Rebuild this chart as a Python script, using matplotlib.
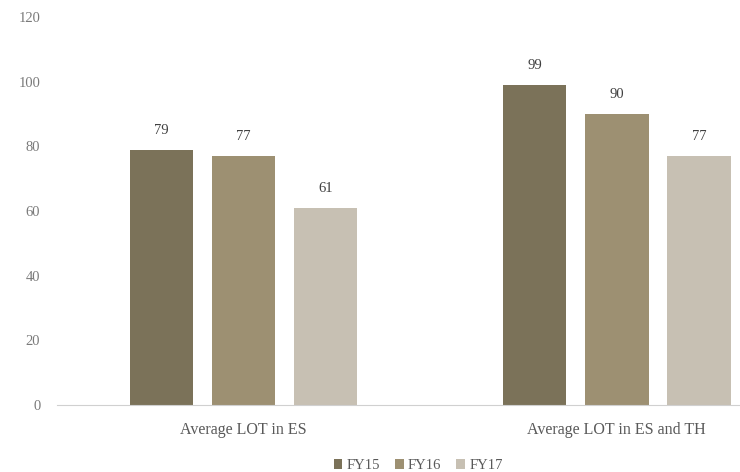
import matplotlib.pyplot as plt
import numpy as np

categories = ['Average LOT in ES', 'Average LOT in ES and TH']
series_names = ['FY15', 'FY16', 'FY17']
fy15 = [79, 99]
fy16 = [77, 90]
fy17 = [61, 77]
colors = ['#7b7259', '#9d9072', '#c7c0b3']

plt.rcParams['font.family'] = ['Liberation Serif', 'DejaVu Serif']

fig = plt.figure(figsize=(7.4, 4.72), dpi=100)
ax = fig.add_axes([0.077, 0.142, 0.923, 0.822])

x = np.arange(len(categories))
width = 0.17
step = 0.22
for i, (vals, name) in enumerate(zip([fy15, fy16, fy17], series_names)):
    pos = x + (i - 1) * step
    bars = ax.bar(pos, vals, width, color=colors[i], label=name)
    for b, v in zip(bars, vals):
        ax.text(b.get_x() + b.get_width() / 2, v + 4, str(v),
                ha='center', va='bottom', fontsize=10.5, color='#404040')

ax.set_xlim(-0.5, 1.33)
ax.set_ylim(0, 120)
ax.set_yticks(range(0, 121, 20))
ax.set_xticks(x)
ax.set_xticklabels(categories)
ax.tick_params(axis='both', length=0, colors='#595959')
ax.tick_params(axis='x', pad=12, labelsize=11.5)
ax.tick_params(axis='y', pad=12, labelsize=10.5, labelcolor='#7a7a7a')
for s in ['top', 'right', 'left']:
    ax.spines[s].set_visible(False)
ax.spines['bottom'].set_color('#d0d0d0')

ax.legend(loc='upper center', bbox_to_anchor=(0.565, 0.055), bbox_transform=fig.transFigure,
          ncol=3, frameon=False, fontsize=10.5, handlelength=0.6, handleheight=0.6,
          columnspacing=1.0, handletextpad=0.3, labelcolor='#595959')

fig.savefig('out.png', dpi=100)
